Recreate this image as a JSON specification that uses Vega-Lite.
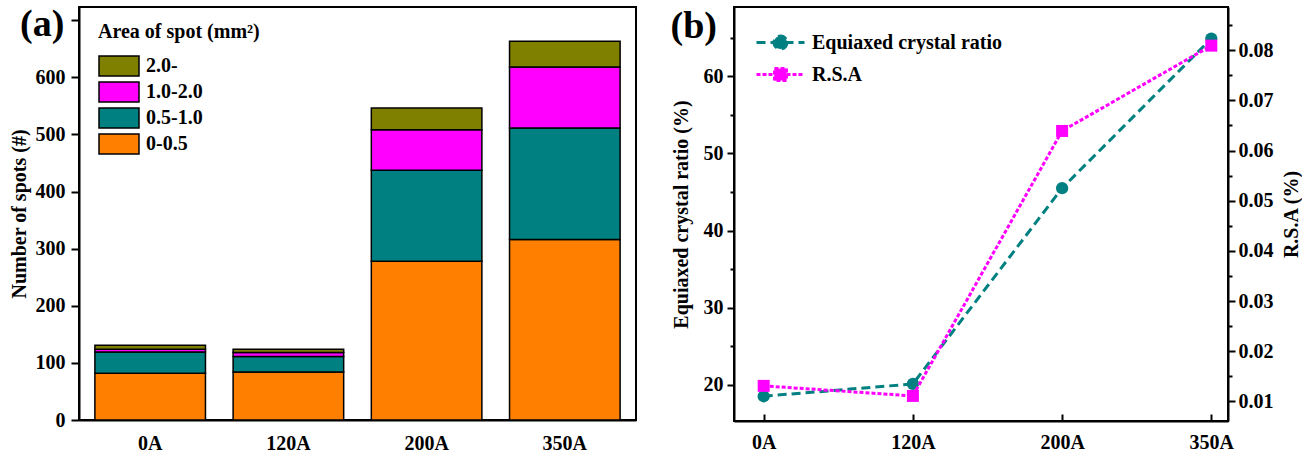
{
  "$schema": "https://vega.github.io/schema/vega-lite/v6.json",
  "padding": {"left": 8, "top": 5, "right": 0, "bottom": 0},
  "background": "white",
  "spacing": 32,
  "datasets": {
    "bars": [
      {"current": "0A", "area": "0-0.5", "count": 82},
      {"current": "0A", "area": "0.5-1.0", "count": 37},
      {"current": "0A", "area": "1.0-2.0", "count": 5},
      {"current": "0A", "area": "2.0-", "count": 7},
      {"current": "120A", "area": "0-0.5", "count": 84},
      {"current": "120A", "area": "0.5-1.0", "count": 27},
      {"current": "120A", "area": "1.0-2.0", "count": 7},
      {"current": "120A", "area": "2.0-", "count": 6},
      {"current": "200A", "area": "0-0.5", "count": 278},
      {"current": "200A", "area": "0.5-1.0", "count": 159},
      {"current": "200A", "area": "1.0-2.0", "count": 71},
      {"current": "200A", "area": "2.0-", "count": 38},
      {"current": "350A", "area": "0-0.5", "count": 316},
      {"current": "350A", "area": "0.5-1.0", "count": 195},
      {"current": "350A", "area": "1.0-2.0", "count": 107},
      {"current": "350A", "area": "2.0-", "count": 45}
    ],
    "lines": [
      {"current": "0A", "series": "Equiaxed crystal ratio", "value": 18.5},
      {"current": "120A", "series": "Equiaxed crystal ratio", "value": 20.1},
      {"current": "200A", "series": "Equiaxed crystal ratio", "value": 45.5},
      {"current": "350A", "series": "Equiaxed crystal ratio", "value": 64.9},
      {"current": "0A", "series": "R.S.A", "value": 0.0131},
      {"current": "120A", "series": "R.S.A", "value": 0.0111},
      {"current": "200A", "series": "R.S.A", "value": 0.0639},
      {"current": "350A", "series": "R.S.A", "value": 0.0809}
    ]
  },
  "hconcat": [
    {
      "width": 557,
      "height": 413,
      "encoding": {
        "x": {
          "field": "current", "type": "ordinal", "sort": ["0A", "120A", "200A", "350A"],
          "scale": {"paddingInner": 0.2, "paddingOuter": 0.115},
          "axis": {"title": null, "labelAngle": 0, "ticks": false, "labelPadding": 13}
        }
      },
      "layer": [
        {
          "data": {"name": "bars"},
          "mark": {"type": "bar", "stroke": "black", "strokeWidth": 1.5},
          "encoding": {
            "y": {
              "field": "count", "type": "quantitative", "stack": "zero",
              "scale": {"domain": [0, 723], "nice": false},
              "axis": {
                "title": "Number of spots (#)",
                "values": [0, 50, 100, 150, 200, 250, 300, 350, 400, 450, 500, 550, 600, 650, 700],
                "labelExpr": "(datum.value % 100 === 0 && datum.value < 700) ? datum.label : ''",
                "tickSize": {"condition": {"test": "datum.value % 100 === 0", "value": 8}, "value": 5},
                "labelPadding": 6,
                "titlePadding": 6
              }
            },
            "fill": {
              "field": "area", "type": "nominal",
              "scale": {"domain": ["2.0-", "1.0-2.0", "0.5-1.0", "0-0.5"], "range": ["#808000", "#FF00FF", "#008080", "#FF8000"]},
              "legend": {
                "orient": "none", "legendX": 19, "legendY": 15, "padding": 0,
                "title": "Area of spot (mm²)",
                "titleFont": "Liberation Serif", "titleFontSize": 20, "titleFontWeight": "bold", "titleColor": "black", "titlePadding": 13, "titleLimit": 400,
                "labelFont": "Liberation Serif", "labelFontSize": 20, "labelFontWeight": "bold", "labelColor": "black", "labelLimit": 300,
                "symbolType": "M-1,-1H3V1H-1Z", "symbolSize": 400, "symbolStrokeColor": "black", "symbolStrokeWidth": 1.5, "symbolOpacity": 1,
                "rowPadding": 0, "labelOffset": 26,
                "encode": {"symbols": {"update": {"fill": {"signal": "datum.value === '2.0-' ? '#808000' : datum.value === '1.0-2.0' ? '#800080' : datum.value === '0.5-1.0' ? '#008080' : '#FF8000'"}, "stroke": {"value": "black"}}}}
              }
            },
            "order": {"field": "area", "sort": "ascending"}
          }
        },
        {
          "data": {"values": [{"panel": "(a)"}]},
          "mark": {"type": "text", "font": "Liberation Serif", "fontWeight": "bold", "fontSize": 38, "baseline": "alphabetic", "align": "center", "color": "black", "dx": -108, "dy": 29},
          "encoding": {
            "x": {"datum": "0A"},
            "y": {"datum": 723},
            "text": {"field": "panel"}
          }
        }
      ]
    },
    {
      "width": 494,
      "height": 414,
      "encoding": {
        "x": {
          "field": "current", "type": "ordinal", "sort": ["0A", "120A", "200A", "350A"],
          "scale": {"type": "point", "padding": 0.1555, "align": 0.64},
          "axis": {"title": null, "labelAngle": 0, "tickSize": -7, "labelPadding": 18}
        }
      },
      "layer": [
        {
          "data": {"name": "lines"},
          "transform": [{"filter": "datum.series === 'Equiaxed crystal ratio'"}],
          "mark": {"type": "line", "strokeDash": [9, 5], "strokeWidth": 3, "point": {"filled": true, "size": 150, "shape": "circle", "opacity": 1}},
          "encoding": {
            "y": {
              "field": "value", "type": "quantitative",
              "scale": {"domain": [15.29, 69], "nice": false, "zero": false},
              "axis": {
                "orient": "left", "title": "Equiaxed crystal ratio (%)",
                "values": [20, 25, 30, 35, 40, 45, 50, 55, 60, 65],
                "labelExpr": "datum.value % 10 === 0 ? datum.label : ''",
                "tickSize": {"condition": {"test": "datum.value % 10 === 0", "value": 7}, "value": 4},
                "labelPadding": 4, "titlePadding": 12
              }
            },
            "color": {
              "field": "series", "type": "nominal",
              "scale": {"domain": ["Equiaxed crystal ratio", "R.S.A"], "range": ["#008080", "#FF00FF"]},
              "legend": {
                "orient": "none", "legendX": 29, "legendY": 18, "padding": 0, "title": null,
                "labelFont": "Liberation Serif", "labelFontSize": 20, "labelFontWeight": "bold", "labelColor": "black", "labelLimit": 400,
                "symbolSize": 1024, "rowPadding": 2, "labelOffset": 14,
                "encode": {"symbols": {"update": {
                  "shape": {"signal": "datum.value === 'R.S.A' ? 'M-1.5,0H1.5M-0.375,-0.375H0.375V0.375H-0.375Z' : 'M-1.5,0H1.5M0.406,0A0.406,0.406,0,1,1,-0.406,0A0.406,0.406,0,1,1,0.406,0Z'"},
                  "fill": {"signal": "datum.value === 'R.S.A' ? '#FF00FF' : '#008080'"},
                  "stroke": {"signal": "datum.value === 'R.S.A' ? '#FF00FF' : '#008080'"},
                  "strokeDash": {"signal": "datum.value === 'R.S.A' ? [4, 2] : [9, 5]"},
                  "strokeWidth": {"value": 3},
                  "size": {"value": 1024},
                  "opacity": {"value": 1}
                }}}
              }
            }
          }
        },
        {
          "data": {"name": "lines"},
          "transform": [{"filter": "datum.series === 'R.S.A'"}],
          "mark": {"type": "line", "strokeDash": [4, 2], "strokeWidth": 3, "point": {"filled": true, "size": 144, "shape": "square", "opacity": 1}},
          "encoding": {
            "y": {
              "field": "value", "type": "quantitative",
              "scale": {"domain": [0.0061, 0.0886], "nice": false, "zero": false},
              "axis": {
                "orient": "right", "title": "R.S.A (%)", "titleAngle": 270, "titleBaseline": "top",
                "values": [0.01, 0.015, 0.02, 0.025, 0.03, 0.035, 0.04, 0.045, 0.05, 0.055, 0.06, 0.065, 0.07, 0.075, 0.08, 0.085],
                "format": ".2f",
                "labelExpr": "abs(datum.value * 100 - round(datum.value * 100)) < 0.000001 ? datum.label : ''",
                "tickSize": {"condition": {"test": "abs(datum.value * 100 - round(datum.value * 100)) < 0.000001", "value": 7}, "value": 4},
                "labelPadding": 3, "titlePadding": 8
              }
            },
            "color": {"field": "series", "type": "nominal"}
          }
        },
        {
          "data": {"values": [{"panel": "(b)"}]},
          "mark": {"type": "text", "font": "Liberation Serif", "fontWeight": "bold", "fontSize": 38, "baseline": "alphabetic", "align": "center", "color": "black", "dx": -70, "dy": 31},
          "encoding": {
            "x": {"datum": "0A"},
            "y": {"datum": 69, "scale": {"domain": [15.29, 69], "nice": false, "zero": false}, "axis": null},
            "text": {"field": "panel"}
          }
        }
      ],
      "resolve": {"scale": {"y": "independent"}}
    }
  ],
  "resolve": {"scale": {"fill": "independent", "color": "independent"}, "legend": {"fill": "independent", "color": "independent"}},
  "config": {
    "font": "Liberation Serif",
    "view": {"stroke": "black", "strokeWidth": 2},
    "axis": {
      "grid": false,
      "domainColor": "black", "domainWidth": 2,
      "tickColor": "black", "tickWidth": 2,
      "labelFont": "Liberation Serif", "labelFontSize": 20, "labelFontWeight": "bold", "labelColor": "black",
      "titleFont": "Liberation Serif", "titleFontSize": 20, "titleFontWeight": "bold", "titleColor": "black"
    }
  }
}
